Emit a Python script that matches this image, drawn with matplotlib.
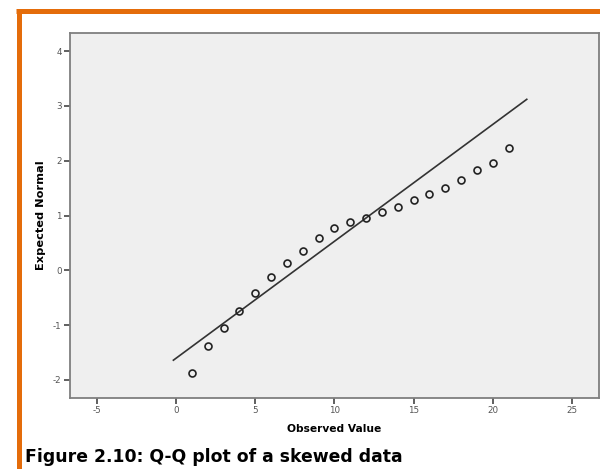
import matplotlib
matplotlib.use("Agg")
import matplotlib.pyplot as plt
from matplotlib.lines import Line2D

plt.rcParams["axes.unicode_minus"] = False

# observed values and expected normal quantiles
observed = [1, 2, 3, 4, 5, 6, 7, 8, 9, 10, 11, 12, 13, 14, 15, 16, 17, 18, 19, 20, 21]
expected = [-1.88, -1.38, -1.05, -0.74, -0.42, -0.13, 0.13, 0.35, 0.59, 0.77, 0.88,
            0.96, 1.07, 1.16, 1.28, 1.40, 1.50, 1.65, 1.83, 1.96, 2.23]
# reference line
line_x = [-0.17, 22.15]
line_y = [-1.64, 3.12]

xticks = [-5, 0, 5, 10, 15, 20, 25]
yticks = [-2, -1, 0, 1, 2, 3, 4]

fig = plt.figure(figsize=(6, 4.69), dpi=100)
ax = fig.add_axes([0.1167, 0.1514, 0.8813, 0.7782])
ax.set_facecolor("#efefef")

ax.plot(line_x, line_y, color="#333333", lw=1.2)
ax.plot(observed, expected, "o", ms=5, mfc="none", mec="#222222", mew=1.2)

ax.set_xlim(-6.7, 26.7)
ax.set_ylim(-2.33, 4.33)
ax.set_xticks(xticks)
ax.set_yticks(yticks)
ax.tick_params(length=4, width=1.2, color="#444444", labelcolor="#555555",
               labelsize=6.3, pad=2)
for s in ax.spines.values():
    s.set_color("#7f7f7f")
    s.set_linewidth(1.3)

ax.set_xlabel("Observed Value", fontsize=7.7, fontweight="bold", labelpad=6)
ax.set_ylabel("Expected Normal", fontsize=8.2, fontweight="bold", labelpad=5)

fig.text(25 / 600, 1 - 462 / 469, "Figure 2.10: Q-Q plot of a skewed data",
         fontsize=12.4, fontweight="bold", ha="left", va="baseline", color="black")

# orange frame (top and left)
orange = "#e46c0a"
fig.add_artist(Line2D([16 / 600, 1.0], [1 - 11.5 / 469, 1 - 11.5 / 469],
                      transform=fig.transFigure, color=orange, lw=3.6,
                      solid_capstyle="butt"))
fig.add_artist(Line2D([18.5 / 600, 18.5 / 600], [0, 1 - 9 / 469],
                      transform=fig.transFigure, color=orange, lw=3.6,
                      solid_capstyle="butt"))

fig.savefig("out.png", dpi=100)
